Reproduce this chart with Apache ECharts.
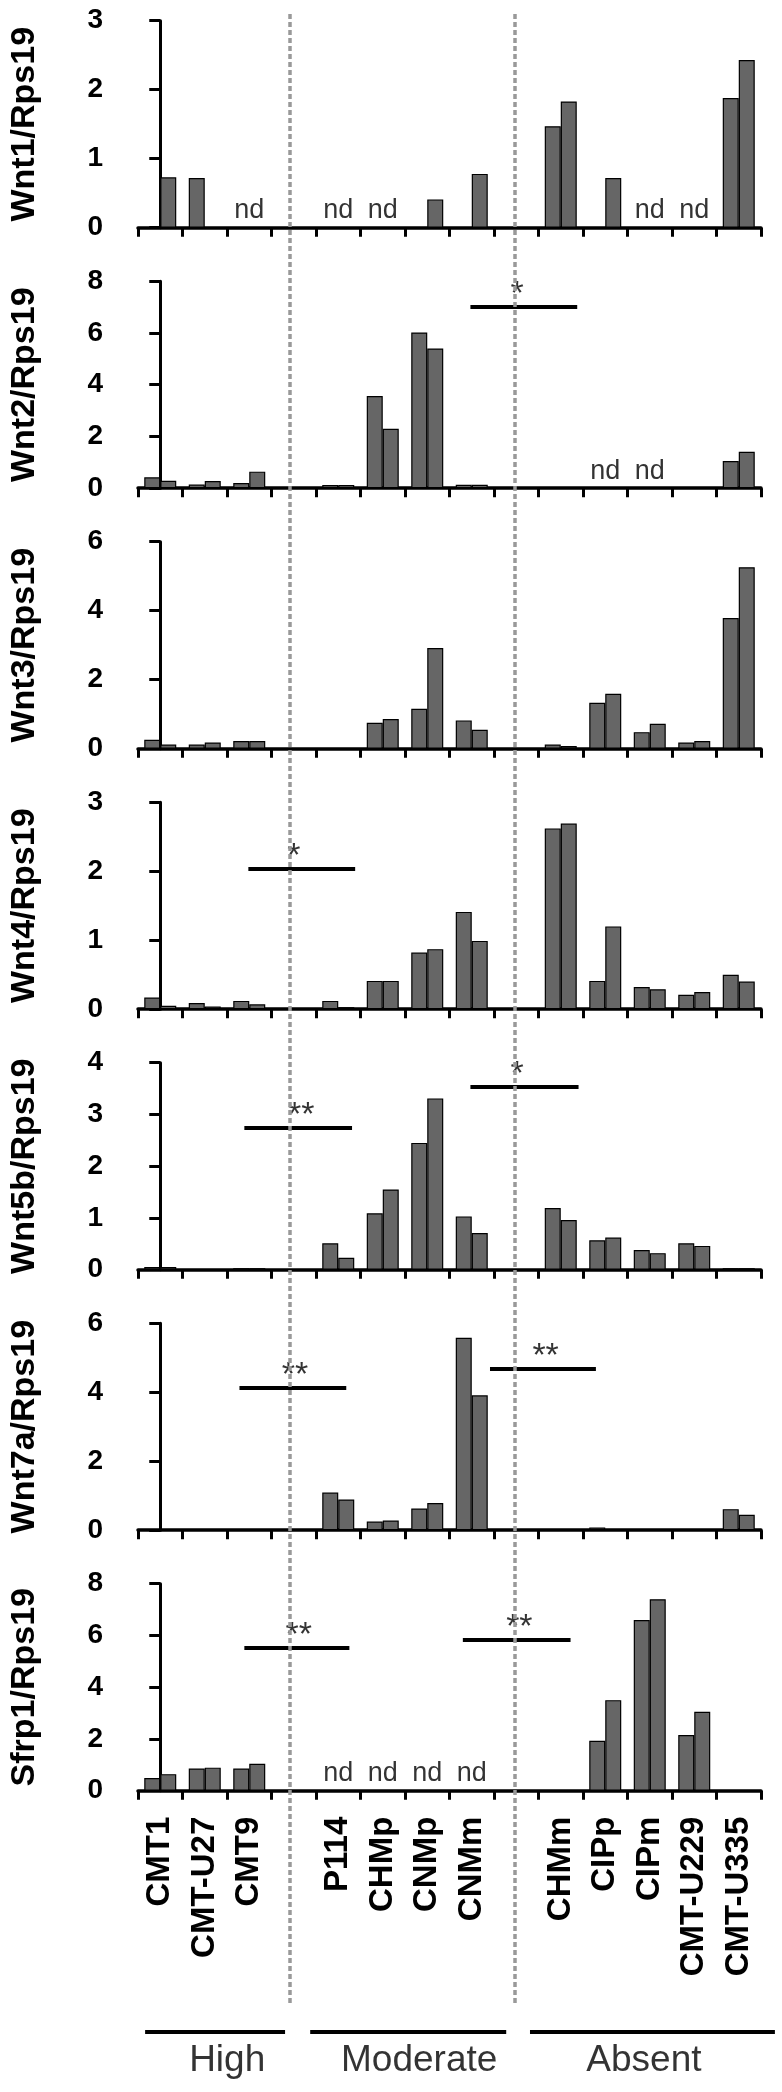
<!DOCTYPE html>
<html>
<head>
<meta charset="utf-8">
<script src="https://cdn.jsdelivr.net/npm/echarts@6/dist/echarts.min.js"></script>
<style>
html,body{margin:0;padding:0;background:#ffffff;}
#chart{width:782px;height:2092px;}
</style>
</head>
<body>
<div id="chart"></div>
<script>
// ---------------- DATA ----------------
const categories = ['CMT1','CMT-U27','CMT9','','P114','CHMp','CNMp','CNMm','','CHMm','CIPp','CIPm','CMT-U229','CMT-U335'];

const yTitles = ['Wnt1/Rps19','Wnt2/Rps19','Wnt3/Rps19','Wnt4/Rps19','Wnt5b/Rps19','Wnt7a/Rps19','Sfrp1/Rps19'];
const yMax  = [3, 8, 6, 3, 4, 6, 8];
const yStep = [1, 2, 2, 1, 1, 2, 2];

// two bars per cell line (left = rep1, right = rep2); null = spacer category
const wnt1_rep1  = [0,    0.72, 0,    null, 0,    0,    0,    0,    null, 1.47, 0,    0,    0,    1.88];
const wnt1_rep2  = [0.73, 0,    0,    null, 0,    0,    0.41, 0.78, null, 1.83, 0.72, 0,    0,    2.43];
const wnt2_rep1  = [0.42, 0.14, 0.20, null, 0.12, 3.56, 6.02, 0.13, null, 0,    0,    0,    0,    1.05];
const wnt2_rep2  = [0.29, 0.28, 0.64, null, 0.12, 2.30, 5.40, 0.13, null, 0,    0,    0,    0,    1.41];
const wnt3_rep1  = [0.26, 0.12, 0.22, null, 0,    0.75, 1.16, 0.82, null, 0.12, 1.33, 0.48, 0.18, 3.79];
const wnt3_rep2  = [0.12, 0.18, 0.22, null, 0,    0.86, 2.92, 0.55, null, 0.08, 1.59, 0.72, 0.22, 5.26];
const wnt4_rep1  = [0.17, 0.09, 0.12, null, 0.12, 0.41, 0.82, 1.41, null, 2.62, 0.41, 0.32, 0.21, 0.50];
const wnt4_rep2  = [0.05, 0.04, 0.07, null, 0.03, 0.41, 0.87, 0.99, null, 2.69, 1.20, 0.29, 0.25, 0.40];
const wnt5b_rep1 = [0.05, 0,    0.03, null, 0.51, 1.09, 2.45, 1.03, null, 1.19, 0.57, 0.38, 0.51, 0.03];
const wnt5b_rep2 = [0.05, 0,    0.03, null, 0.23, 1.55, 3.31, 0.71, null, 0.96, 0.62, 0.32, 0.46, 0.03];
const wnt7a_rep1 = [0,    0,    0,    null, 1.09, 0.25, 0.63, 5.58, null, 0,    0.08, 0,    0,    0.61];
const wnt7a_rep2 = [0,    0,    0,    null, 0.89, 0.28, 0.79, 3.91, null, 0,    0,    0,    0,    0.45];
const sfrp1_rep1 = [0.49, 0.86, 0.86, null, 0,    0,    0,    0,    null, 0,    1.93, 6.60, 2.15, 0];
const sfrp1_rep2 = [0.64, 0.89, 1.04, null, 0,    0,    0,    0,    null, 0,    3.50, 7.40, 3.05, 0];

// not detected
const ndWnt1  = ['CMT9','P114','CHMp','CIPm','CMT-U229'];
const ndWnt2  = ['CIPp','CIPm'];
const ndSfrp1 = ['P114','CHMp','CNMp','CNMm'];

// significance marks and their levels (y units of each panel)
const sigMarks  = [[], ['*'], [], ['*'], ['**', '*'], ['**', '**'], ['**', '**']];
const sigLevels = [[], [7.0], [], [2.04], [2.75, 3.54], [4.14, 4.69], [5.54, 5.83]];

const groupNames = ['High','Moderate','Absent'];

// ---------------- LAYOUT (x in category-centre units, overlay y in px) ----------------
const sigSpans = [[], [[6.97,9.37,8.02]], [], [[1.98,4.38,3.0]],
  [[1.89,4.31,3.17],[6.97,9.40,8.02]], [[1.78,4.18,3.03],[7.41,9.79,8.66]], [[1.89,4.25,3.11],[6.80,9.22,8.07]]];
const groupSpans = [[-0.23,2.89],[3.45,7.82],[8.35,13.81]];
const groupLabelAt = [1.60, 5.88, 10.89];
const dividerAt = [3, 8];

const W = 782, H = 2092;
const L = 133, R = 21, TOP0 = 20.7, STEP = 260.5, PH = 207;
const catW = (W - L - R) / categories.length;
const FONT = "'Liberation Sans', Arial, Helvetica, sans-serif";

const reps = [
  [wnt1_rep1, wnt1_rep2], [wnt2_rep1, wnt2_rep2], [wnt3_rep1, wnt3_rep2], [wnt4_rep1, wnt4_rep2],
  [wnt5b_rep1, wnt5b_rep2], [wnt7a_rep1, wnt7a_rep2], [sfrp1_rep1, sfrp1_rep2]
];
const nds = [ndWnt1, ndWnt2, [], [], [], [], ndSfrp1];

const grid = [], xAxis = [], yAxis = [], series = [];
const nP = yTitles.length;

for (let p = 0; p < nP; p++) {
  grid.push({left: L, right: R, top: TOP0 + STEP * p, height: PH, containLabel: false});
  const last = p === nP - 1;
  xAxis.push({
    type: 'category', gridIndex: p, data: categories,
    axisLine: {show: true, lineStyle: {color: '#000', width: 3.5}},
    axisTick: {show: true, interval: 0, length: 9, lineStyle: {color: '#000', width: 3}},
    axisLabel: {show: last, interval: 0, rotate: 90, margin: 26, color: '#000',
      fontFamily: FONT, fontWeight: 'bold', fontSize: 33},
    splitLine: {show: false}
  });
  xAxis.push({type: 'value', gridIndex: p, min: -0.5, max: categories.length - 0.5, show: false});
  yAxis.push({
    type: 'value', gridIndex: p, min: 0, max: yMax[p], interval: yStep[p],
    name: yTitles[p], nameLocation: 'middle', nameGap: 96,
    nameTextStyle: {color: '#000', fontFamily: FONT, fontWeight: 'bold', fontSize: 34},
    axisLine: {show: true, lineStyle: {color: '#000', width: 3}},
    axisTick: {show: true, length: 11, lineStyle: {color: '#000', width: 3}},
    axisLabel: {color: '#000', fontFamily: FONT, fontWeight: 'bold', fontSize: 28, margin: 35},
    splitLine: {show: false}
  });
  const xi = 2 * p;
  reps[p].forEach(arr => {
    series.push({
      type: 'bar', xAxisIndex: xi, yAxisIndex: p, data: arr,
      barWidth: 16, barGap: '0%',
      itemStyle: {color: '#666666', borderColor: '#000', borderWidth: 1.2},
      silent: true, animation: false
    });
  });
  if (nds[p].length) {
    series.push({
      type: 'scatter', xAxisIndex: xi, yAxisIndex: p,
      data: categories.map(c => nds[p].indexOf(c) >= 0 ? 0 : '-'),
      symbolSize: 1, itemStyle: {color: 'transparent'},
      label: {show: true, position: 'top', distance: 3, formatter: 'nd',
        color: '#000', fontFamily: FONT, fontSize: 27},
      z: 4, animation: false
    });
  }
  if (sigSpans[p].length) {
    series.push({
      type: 'lines', coordinateSystem: 'cartesian2d', xAxisIndex: xi + 1, yAxisIndex: p,
      data: sigSpans[p].map((s, k) => ({coords: [[s[0], sigLevels[p][k]], [s[1], sigLevels[p][k]]]})),
      lineStyle: {color: '#000', width: 4, opacity: 1, curveness: 0},
      symbol: 'none', z: 4, animation: false
    });
    series.push({
      type: 'scatter', xAxisIndex: xi + 1, yAxisIndex: p,
      data: sigSpans[p].map((s, k) => ({value: [s[2], sigLevels[p][k]], name: sigMarks[p][k]})),
      symbolSize: 1, itemStyle: {color: 'transparent'},
      label: {show: true, position: 'inside', offset: [0, -12], formatter: '{b}',
        color: '#000', fontFamily: FONT, fontSize: 34},
      z: 4, animation: false
    });
  }
}

// overlay grid (pixel y, category-centre x) for dividers and group brackets
const ov = nP;
grid.push({left: 0, right: 0, top: 0, bottom: 0});
xAxis.push({type: 'value', gridIndex: ov, min: -0.5 - L / catW, max: categories.length - 0.5 + R / catW, show: false});
yAxis.push({type: 'value', gridIndex: ov, min: 0, max: H, inverse: true, show: false});
const ovX = 2 * nP;
series.push({
  type: 'lines', coordinateSystem: 'cartesian2d', xAxisIndex: ovX, yAxisIndex: ov,
  data: dividerAt.map(x => ({coords: [[x, 14], [x, 2005]]})),
  lineStyle: {color: '#999999', width: 3.5, type: [5, 3], opacity: 1, curveness: 0},
  z: 6, animation: false
});
series.push({
  type: 'lines', coordinateSystem: 'cartesian2d', xAxisIndex: ovX, yAxisIndex: ov,
  data: groupSpans.map(s => ({coords: [[s[0], 2031.5], [s[1], 2031.5]]})),
  lineStyle: {color: '#000', width: 4, opacity: 1, curveness: 0},
  z: 6, animation: false
});
series.push({
  type: 'scatter', xAxisIndex: ovX, yAxisIndex: ov,
  data: groupNames.map((g, i) => ({value: [groupLabelAt[i], 2061], name: g})),
  symbolSize: 1, itemStyle: {color: 'transparent'},
  label: {show: true, position: 'inside', formatter: '{b}', color: '#000', fontFamily: FONT, fontSize: 37},
  z: 6, animation: false
});

const chart = echarts.init(document.getElementById('chart'), null, {renderer: 'canvas', width: W, height: H});
chart.setOption({
  animation: false,
  backgroundColor: '#ffffff',
  textStyle: {fontFamily: FONT},
  grid, xAxis, yAxis, series
});
</script>
</body>
</html>
